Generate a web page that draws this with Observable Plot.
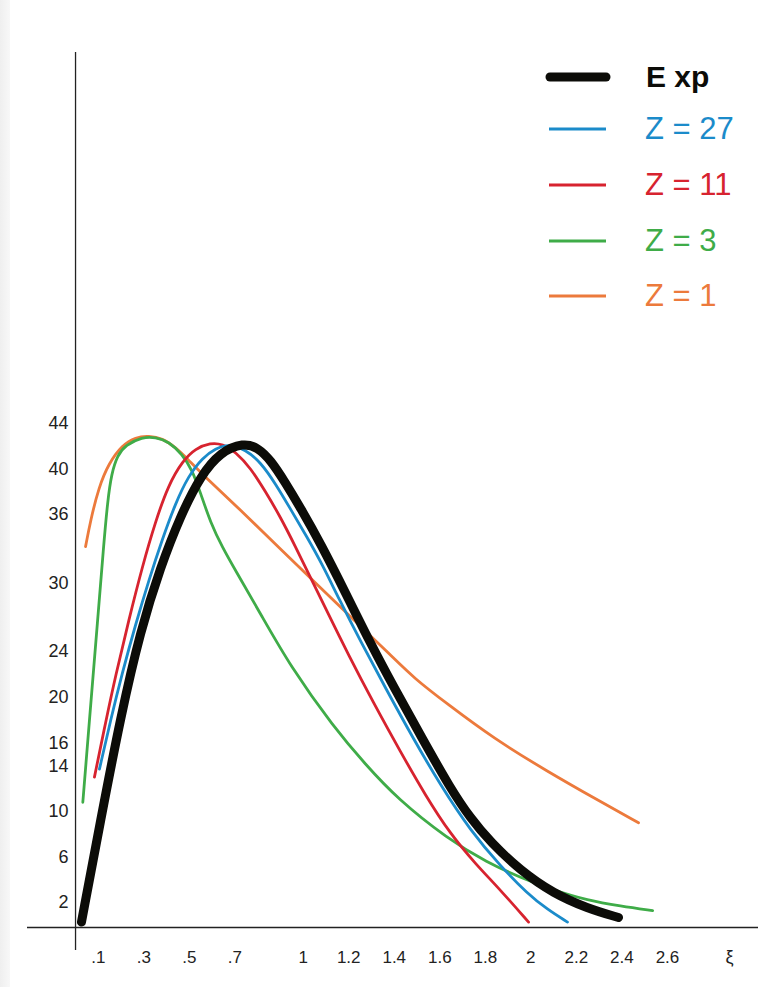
<!DOCTYPE html>
<html>
<head>
<meta charset="utf-8">
<script src="https://cdn.jsdelivr.net/npm/d3@7"></script>
<script src="https://cdn.jsdelivr.net/npm/@observablehq/plot@0.6"></script>
<style>
  body { margin: 0; background: #fff; }
  #wrap { position: relative; width: 758px; height: 987px; overflow: hidden;
          font-family: "Liberation Sans", Arial, Helvetica, sans-serif; }
  #edge { position: absolute; left: 0; top: 0; width: 10px; height: 987px;
          background: linear-gradient(to right, #efefef, #f8f8f8); }
  #legend { position: absolute; left: 0; top: 0; pointer-events: none; }
</style>
</head>
<body>
<div id="wrap">
  <div id="edge"></div>
  <div id="chart"></div>
  <svg id="legend" width="758" height="340"></svg>
</div>
<script>
// Tick values of both axes
const xTicks = [0.1, 0.3, 0.5, 0.7, 1, 1.2, 1.4, 1.6, 1.8, 2, 2.2, 2.4, 2.6];
const yTicks = [2, 6, 10, 14, 16, 20, 24, 30, 36, 40, 44];

// Series names and colours (legend order)
const seriesNames = ["E xp", "Z = 27", "Z = 11", "Z = 3", "Z = 1"];
const seriesColors = ["#0c0c08", "#1b8bca", "#d7232f", "#3fac48", "#ec7a3c"];

// Curves as [ξ, value] pairs
const expCurve = [
  [0.026, 0.3], [0.110, 9.2], [0.198, 18.3], [0.286, 25.9], [0.373, 31.4],
  [0.461, 35.9], [0.549, 39.4], [0.637, 41.5], [0.738, 42.3], [0.799, 41.9],
  [0.857, 40.8], [0.922, 38.8], [0.988, 36.6], [1.076, 33.5], [1.190, 29.0],
  [1.296, 24.7], [1.406, 20.6], [1.520, 16.5], [1.647, 12.0], [1.735, 9.4],
  [1.823, 7.3], [1.955, 4.8], [2.100, 2.8], [2.249, 1.5], [2.385, 0.7]
];
const z27Curve = [
  [0.105, 13.7], [0.154, 18.0], [0.206, 22.2], [0.264, 26.4], [0.321, 30.2],
  [0.382, 33.9], [0.439, 37.0], [0.496, 39.4], [0.558, 41.0], [0.615, 41.8],
  [0.672, 42.2], [0.747, 41.7], [0.813, 40.6], [0.879, 38.7], [0.944, 36.5],
  [1.015, 34.1], [1.085, 31.6], [1.155, 28.7], [1.252, 24.9], [1.362, 20.8],
  [1.480, 16.5], [1.603, 12.3], [1.735, 8.3], [1.867, 5.2], [1.985, 2.8],
  [2.073, 1.4], [2.161, 0.3]
];
const z11Curve = [
  [0.083, 13.0], [0.132, 17.8], [0.176, 21.9], [0.233, 26.7], [0.294, 31.5],
  [0.351, 35.4], [0.408, 38.6], [0.470, 40.7], [0.527, 41.8], [0.593, 42.3],
  [0.646, 42.2], [0.703, 41.5], [0.769, 40.1], [0.835, 38.0], [0.900, 35.8],
  [0.966, 33.2], [1.032, 30.5], [1.103, 27.6], [1.199, 23.7], [1.309, 19.5],
  [1.428, 15.2], [1.537, 11.4], [1.647, 8.0], [1.757, 5.4], [1.867, 3.1],
  [1.990, 0.3]
];
const z3Curve = [
  [0.032, 10.8], [0.066, 19.2], [0.097, 26.7], [0.123, 33.2], [0.141, 37.2],
  [0.158, 39.6], [0.184, 41.2], [0.220, 42.1], [0.293, 42.8], [0.351, 42.8],
  [0.410, 42.4], [0.469, 41.3], [0.513, 39.9], [0.549, 37.9], [0.593, 35.3],
  [0.646, 33.1], [0.703, 31.1], [0.813, 27.3], [0.944, 22.7], [1.133, 17.4],
  [1.274, 14.1], [1.414, 11.1], [1.634, 7.6], [1.810, 5.5], [1.955, 4.2],
  [2.100, 3.1], [2.249, 2.2], [2.394, 1.7], [2.535, 1.3]
];
const z1Curve = [
  [0.044, 33.2], [0.066, 35.5], [0.102, 38.4], [0.146, 40.5], [0.205, 42.1],
  [0.264, 42.8], [0.322, 42.9], [0.381, 42.7], [0.439, 41.9], [0.496, 40.8],
  [0.549, 39.7], [0.725, 36.4], [0.900, 33.0], [1.076, 29.6], [1.252, 26.2],
  [1.384, 23.7], [1.485, 21.7], [1.634, 19.4], [1.836, 16.4], [2.073, 13.5],
  [2.293, 11.0], [2.473, 9.0]
];

const curves = [expCurve, z27Curve, z11Curve, z3Curve, z1Curve];
const table = (pts, i) => pts.map(([xi, v]) => ({ series: seriesNames[i], xi, v }));

// Thin model curves first, the thick experimental curve on top
const lineMarks = [4, 3, 2, 1, 0].map(i =>
  Plot.line(table(curves[i], i), {
    x: "xi", y: "v",
    stroke: seriesColors[i],
    strokeWidth: i === 0 ? 9 : 2.8,
    strokeLinecap: "round",
    strokeLinejoin: "round",
    curve: "basis"
  })
);

const fmtX = d => String(d).replace(/^0\./, ".");

const chart = Plot.plot({
  width: 758,
  height: 987,
  marginLeft: 27,
  marginRight: 0,
  marginTop: 52,
  marginBottom: 37,
  x: { domain: [-0.211, 3.0] },
  y: { domain: [-2.19, 76.5] },
  style: { fontFamily: "'Liberation Sans', Arial, sans-serif", fontSize: "18px", color: "#222", background: "transparent" },
  marks: [
    Plot.ruleY([0], { dy: 2, stroke: "#222", strokeWidth: 1.3 }),
    Plot.ruleX([0], { stroke: "#222", strokeWidth: 1.3 }),
    Plot.axisY(yTicks, { tickSize: 0, tickPadding: 7, dx: 48, fontSize: 18, fill: "#222", label: null }),
    Plot.axisX(xTicks, { tickSize: 0, tickPadding: 0, tickFormat: fmtX, fontSize: 17, fill: "#222", label: null }),
    Plot.text(["ξ"], { frameAnchor: "bottom-right", dx: -25, dy: 0, lineAnchor: "top", fontSize: 18, fill: "#222" }),
    ...lineMarks
  ]
});
document.getElementById("chart").appendChild(chart);

// Legend, upper right
const legend = d3.select("#legend");
const rowY = [77, 129, 185, 241, 296];
seriesNames.forEach((name, i) => {
  const thick = i === 0;
  legend.append("line")
    .attr("x1", thick ? 550 : 549).attr("x2", 606)
    .attr("y1", rowY[i]).attr("y2", rowY[i])
    .attr("stroke", seriesColors[i])
    .attr("stroke-width", thick ? 9 : 3)
    .attr("stroke-linecap", thick ? "round" : "butt");
  legend.append("text")
    .attr("x", thick ? 646 : 645)
    .attr("y", thick ? 87 : rowY[i] + 10)
    .attr("fill", seriesColors[i])
    .attr("font-family", "'Liberation Sans', Arial, sans-serif")
    .attr("font-size", thick ? 30 : 31)
    .attr("font-weight", thick ? "bold" : "normal")
    .text(name);
});
</script>
</body>
</html>
